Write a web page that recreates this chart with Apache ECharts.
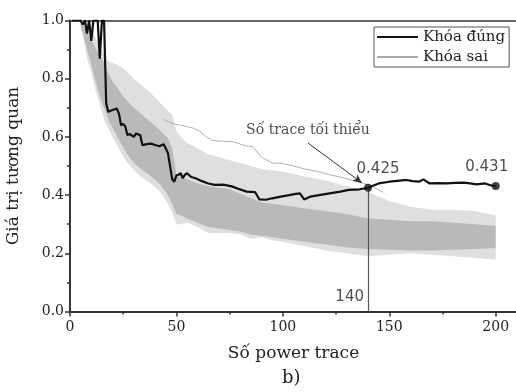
<!DOCTYPE html>
<html><head><meta charset="utf-8">
<script src="https://cdn.jsdelivr.net/npm/echarts@6/dist/echarts.min.js"></script>
<style>html,body{margin:0;padding:0;background:#fff}#c{width:516px;height:392px}</style>
</head><body><div id="c"></div>
<script>
// ---- data ----
const xMajorTicks = [0, 50, 100, 150, 200];
const yTickLabels = ['0.0', '0.2', '0.4', '0.6', '0.8', '1.0'];

// correct key (Khóa đúng)
const correctT = [1,2,3,4,5,6,7,8,9,10,11,12,13,14,15,16,17,18,19,21,22,23,24,25,26,27,28,30,31,33,34,36,38,40,42,44,45,46,47,48,49,50,51,52,53,54,55,57,59,62,65,68,72,76,79,83,87,89,92,95,99,103,106,108,110,113,117,122,127,131,136,140,145,150,155,158,161,164,166,169,173,177,181,185,188,191,195,198,200];
const correctV = [1,1,1,1,1,0.986,1,0.955,1,0.93,1,1,1,0.869,1,1,0.715,0.686,0.69,0.695,0.697,0.68,0.64,0.645,0.635,0.606,0.61,0.6,0.612,0.606,0.572,0.575,0.577,0.572,0.568,0.575,0.56,0.545,0.5,0.455,0.446,0.468,0.47,0.475,0.458,0.47,0.475,0.462,0.458,0.448,0.44,0.435,0.436,0.43,0.422,0.412,0.41,0.385,0.384,0.389,0.395,0.4,0.404,0.406,0.385,0.395,0.4,0.406,0.412,0.418,0.42,0.425,0.44,0.446,0.45,0.452,0.448,0.446,0.454,0.44,0.441,0.44,0.442,0.443,0.44,0.437,0.44,0.433,0.431];

// wrong keys (Khóa sai): envelope of the dense bundle + a visible outlier
const bandT      = [5,6,8,10,12,14,16,18,20,23,26,30,34,38,42,46,48,50,52,55,60,65,70,75,80,85,90,95,100,110,120,130,140,150,160,170,180,190,200];
const outerLower = [0.97,0.95,0.87,0.82,0.76,0.71,0.66,0.63,0.6,0.56,0.52,0.485,0.46,0.44,0.415,0.37,0.34,0.3,0.3,0.305,0.29,0.27,0.27,0.27,0.265,0.25,0.255,0.245,0.24,0.225,0.21,0.2,0.19,0.195,0.2,0.195,0.19,0.185,0.178];
const coreLower  = [0.98,0.96,0.9,0.85,0.79,0.74,0.7,0.66,0.63,0.59,0.55,0.51,0.485,0.465,0.44,0.4,0.37,0.335,0.33,0.32,0.305,0.29,0.285,0.28,0.275,0.265,0.26,0.255,0.25,0.24,0.23,0.22,0.215,0.212,0.21,0.21,0.212,0.215,0.218];
const coreUpper  = [0.995,0.99,0.96,0.935,0.905,0.88,0.855,0.82,0.79,0.76,0.73,0.7,0.675,0.65,0.625,0.595,0.56,0.47,0.46,0.455,0.44,0.43,0.425,0.42,0.405,0.39,0.375,0.37,0.365,0.355,0.345,0.335,0.32,0.315,0.31,0.31,0.305,0.3,0.295];
const outerUpper = [1,1,0.99,0.97,0.94,0.91,0.88,0.86,0.855,0.845,0.83,0.8,0.775,0.75,0.72,0.69,0.675,0.62,0.6,0.58,0.56,0.54,0.53,0.52,0.51,0.5,0.49,0.485,0.48,0.465,0.45,0.43,0.41,0.38,0.36,0.35,0.35,0.345,0.33];
const wrongAT = [44,48,52,55,58,61,64,67,72,77,82,86,90,95,99,105,110,117,122,128,133,138,142,147];
const wrongAV = [0.66,0.646,0.64,0.635,0.63,0.62,0.6,0.588,0.585,0.583,0.57,0.566,0.53,0.51,0.51,0.5,0.49,0.48,0.47,0.46,0.45,0.44,0.43,0.41];

const markedT = [140, 200];
const markedV = [0.425, 0.431];
const minTraceLabel = '140';
const arrowFrom = [111.8, 0.579];
const arrowTo = [137.2, 0.442];

// ---- chart ----
const pairs = (t, v) => t.map((x, i) => [x, v[i]]);
const serif = 'DejaVu Serif';
const sans = 'DejaVu Sans';
const chart = echarts.init(document.getElementById('c'));

function bandItem(lower, upper, color) {
  return function (params, api) {
    if (params.dataIndex !== 0) return null;
    const pts = [];
    for (let i = 0; i < bandT.length; i++) pts.push(api.coord([bandT[i], upper[i]]));
    for (let i = bandT.length - 1; i >= 0; i--) pts.push(api.coord([bandT[i], lower[i]]));
    return { type: 'polygon', shape: { points: pts }, style: { fill: color } };
  };
}

const axisCommon = { type: 'value', min: 0, max: 210, splitLine: { show: false } };

chart.setOption({
  animation: false,
  backgroundColor: '#fff',
  grid: { left: 70, top: 20.5, right: -1, height: 291, outerBoundsMode: 'none', containLabel: false, show: false },
  title: { text: 'b)', left: 277, top: 364, textStyle: { fontFamily: serif, fontSize: 18, fontWeight: 'normal', color: '#222' } },
  legend: {
    left: 374, top: 27, orient: 'vertical', itemWidth: 41, itemHeight: 10, itemGap: 4,
    padding: [2, 4, 2, 2], borderColor: '#555', borderWidth: 1, borderRadius: 0,
    itemStyle: { opacity: 0 },
    data: [{ name: 'Khóa đúng', itemStyle: { opacity: 0 } }, { name: 'Khóa sai', itemStyle: { opacity: 0 } }],
    textStyle: { fontFamily: serif, fontSize: 15, color: '#222', lineHeight: 16 }
  },
  xAxis: [
    Object.assign({}, axisCommon, {
      interval: 25,
      name: 'Số power trace', nameLocation: 'middle', nameGap: 34,
      nameTextStyle: { fontFamily: serif, fontSize: 17, color: '#222' },
      axisLine: { lineStyle: { color: '#333', width: 2 } },
      axisTick: { length: 3, lineStyle: { color: '#333', width: 1.5 } },
      axisLabel: { fontFamily: serif, fontSize: 14, color: '#222', margin: 9,
        formatter: v => (xMajorTicks.indexOf(v) >= 0 ? String(v) : '') }
    }),
    Object.assign({}, axisCommon, {
      interval: 50, position: 'bottom',
      axisLine: { show: false },
      axisTick: { length: 5, lineStyle: { color: '#333', width: 1.5 } },
      axisLabel: { show: false }
    }),
    Object.assign({}, axisCommon, {
      interval: 50, position: 'top',
      axisLine: { show: true, lineStyle: { color: '#333', width: 1.5 } },
      axisTick: { show: false },
      axisLabel: { show: false }
    })
  ],
  yAxis: {
    type: 'value', min: 0, max: 1, interval: 0.2,
    name: 'Giá trị tương quan', nameLocation: 'middle', nameGap: 48,
    nameTextStyle: { fontFamily: serif, fontSize: 17, color: '#222' },
    splitLine: { show: false },
    axisLine: { show: true, lineStyle: { color: '#333', width: 2 } },
    axisTick: { length: 5, lineStyle: { color: '#333', width: 1.5 } },
    minorTick: { show: true, splitNumber: 2, length: 3, lineStyle: { color: '#333', width: 1.5 } },
    axisLabel: { fontFamily: serif, fontSize: 14, color: '#222', margin: 6,
      formatter: (v) => yTickLabels[Math.round(v / 0.2)] }
  },
  series: [
    { type: 'custom', name: 'band-outer', silent: true, z: 1, data: [[0, 0]], renderItem: bandItem(outerLower, outerUpper, '#dfdfdf') },
    { type: 'custom', name: 'band-core', silent: true, z: 1, data: [[0, 0]], renderItem: bandItem(coreLower, coreUpper, '#b9b9b9') },
    { type: 'line', name: 'Khóa sai', data: pairs(wrongAT, wrongAV), symbol: 'none', z: 2,
      lineStyle: { color: '#a8a8a8', width: 0.9 }, itemStyle: { color: '#a8a8a8' } },
    { type: 'line', name: 'Khóa đúng', data: pairs(correctT, correctV), symbol: 'none', z: 4,
      lineStyle: { color: '#111', width: 2.2 }, itemStyle: { color: '#111' },
      markLine: {
        silent: true, animation: false,
        data: [
          [{ coord: [markedT[0], markedV[0]], symbol: 'none', lineStyle: { color: '#555', width: 1.2, type: 'solid' } },
           { coord: [markedT[0], 0], symbol: 'none' }],
          [{ coord: arrowFrom, symbol: 'none', lineStyle: { color: '#333', width: 1, type: 'solid' } },
           { coord: arrowTo, symbol: 'arrow', symbolSize: [6, 9] }]
        ],
        label: { show: false }
      }
    },
    { type: 'scatter', name: 'marks', symbolSize: 8, z: 5,
      data: [
        { value: [markedT[0], markedV[0]], label: { offset: [10, 0] } },
        { value: [markedT[1], markedV[1]], label: { offset: [-9, 0] } }
      ],
      itemStyle: { color: '#111' },
      label: { show: true, position: 'top', distance: 7, fontFamily: sans, fontSize: 15, color: '#222',
        formatter: p => p.value[1].toFixed(3) } },
    { type: 'scatter', name: 'minlabel', data: [[markedT[0], 0.05]], symbolSize: 0, z: 5,
      label: { show: true, position: 'left', distance: 4, fontFamily: sans, fontSize: 15, color: '#222',
        formatter: () => minTraceLabel } },
    { type: 'scatter', name: 'arrowlabel', data: [[arrowFrom[0], arrowFrom[1]]], symbolSize: 0, z: 5,
      label: { show: true, position: 'top', distance: 6, fontFamily: serif, fontSize: 14, color: '#222',
        formatter: () => 'Số trace tối thiểu' } }
  ]
});
</script></body></html>
